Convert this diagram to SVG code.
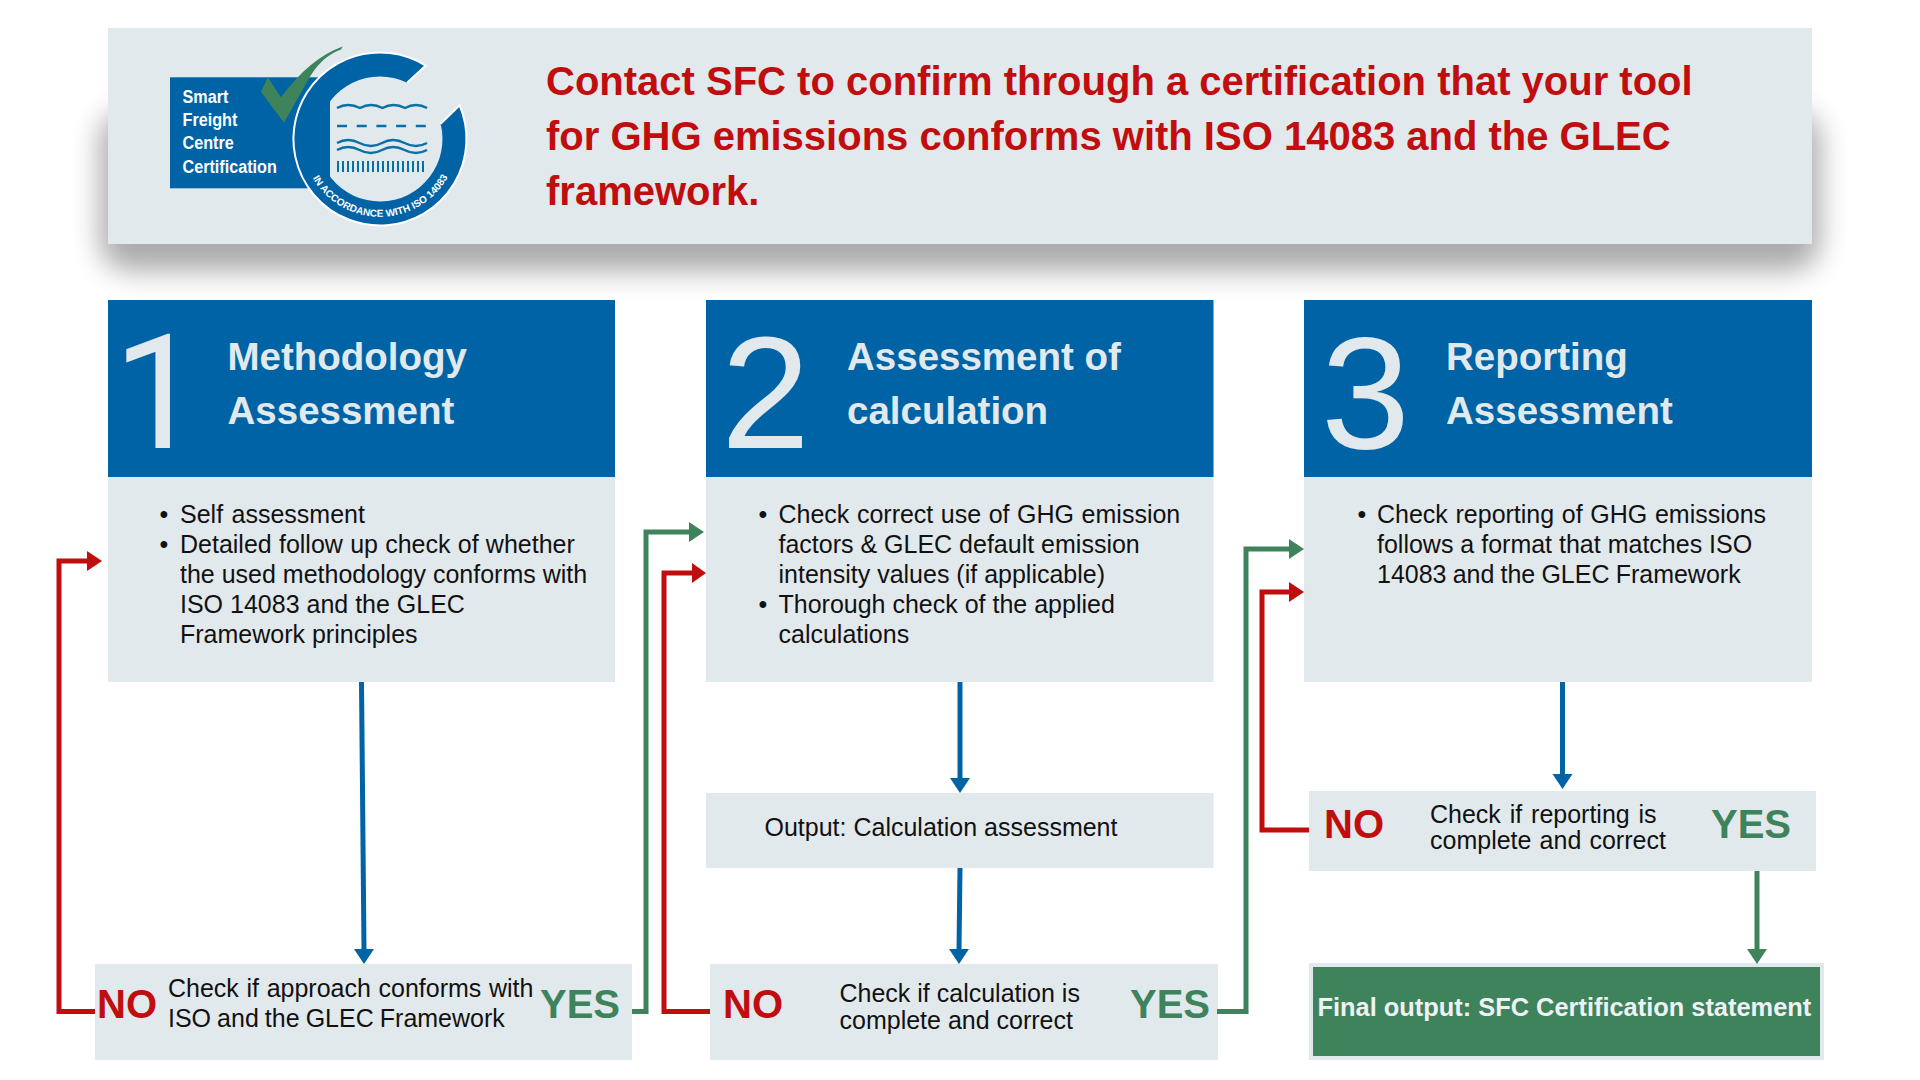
<svg xmlns="http://www.w3.org/2000/svg" width="1920" height="1080" viewBox="0 0 1920 1080">
<style>
text{font-family:"Liberation Sans",Arial,sans-serif}
.num{font-size:160px;fill:#e2e9ed}
.ttl{font-size:38.5px;font-weight:700;fill:#e2e9ed}
.red{font-size:40px;font-weight:700;fill:#c00d0d}
.body{font-size:25px;fill:#111}
.no{font-size:40px;font-weight:700;fill:#c00d0d}
.yes{font-size:40px;font-weight:700;fill:#3f835d}
.c{fill:none;stroke-width:5}
.cb{stroke:#0063a6}.cr{stroke:#c00d0d}.cg{stroke:#3f835d}
.wave{fill:none;stroke:#0a6fa5;stroke-width:2.4}
.lg{font-size:18.6px;font-weight:700;fill:#fff}
</style>
<defs>
<filter id="sh" x="-5%" y="-40%" width="110%" height="200%"><feGaussianBlur stdDeviation="14"/></filter>
</defs>
<rect x="0" y="0" width="1920" height="1080" fill="#fff"/>
<g id="banner">
<rect x="100" y="110" width="1720" height="161" rx="30" fill="#000" opacity=".33" filter="url(#sh)"/>
<rect x="108" y="28" width="1704" height="216" fill="#e2e9ed"/>
<g id="logo">
<rect x="170" y="77.3" width="160" height="111" fill="#0063a6"/>
<g transform="translate(182.5,0) scale(.87,1)">
<text class="lg" x="0" y="102.7">Smart</text>
<text class="lg" x="0" y="126">Freight</text>
<text class="lg" x="0" y="149">Centre</text>
<text class="lg" x="0" y="173">Certification</text>
</g>
<path d="M261 91.7L267.7 77.3L281 97.3Q310 58 342.7 46.5L341 49.5Q320 57 307 82L284 122.7Z" fill="#3f835d"/>
<path d="M425.800 65.600A86.500 86.500 0 1 0 459.600 105.200L440.600 123.800A62.500 62.500 0 1 1 407.100 82.700Z" fill="#0063a6"/>
<path d="M407.100 82.700L425.800 65.600A86.500 86.500 0 1 0 459.600 105.200L440.600 123.800" fill="none" stroke="#fff" stroke-width="2"/>
<path id="arc" d="M312.700 178A77.700 77.700 0 0 0 447.300 178" fill="none"/>
<text font-size="10" font-weight="700" fill="#fff"><textPath href="#arc">IN ACCORDANCE WITH ISO 14083</textPath></text>
<path class="wave" d="M337 108q11-6 23 0q11-6 22.500 0q11-6 22.500 0q11-6 22 0"/>
<path class="wave" d="M337 126H427" stroke-dasharray="10 9.700"/>
<path class="wave" d="M337 143q11-6 22.500 0t22.500 0t22.500 0t22.500 0"/>
<path class="wave" d="M337 150q11-6 22.500 0t22.500 0t22.500 0t22.500 0"/>
<path d="M337 166.500H427" fill="none" stroke="#0a6fa5" stroke-width="11" stroke-dasharray="2 3"/>
</g>
<text class="red" x="546" y="95">Contact SFC to confirm through a certification that your tool</text>
<text class="red" x="546" y="150">for GHG emissions conforms with ISO 14083 and the GLEC</text>
<text class="red" x="546" y="205">framework.</text>
</g>
<g id="panel1">
<rect x="108" y="300" width="507" height="177" fill="#0063a6"/>
<rect x="108" y="477" width="507" height="205" fill="#e2e9ed"/>
<text class="num" x="113" y="448" style="font-family:Roboto,sans-serif">1</text>
<text class="ttl" x="227.500" y="370">Methodology</text>
<text class="ttl" x="227.500" y="424">Assessment</text>
<text class="body" x="159.500" y="523">•</text><text class="body" x="180" y="523" word-spacing="1.500">Self assessment</text>
<text class="body" x="159.500" y="553">•</text><text class="body" x="180" y="553" word-spacing=".3">Detailed follow up check of whether</text>
<text class="body" x="180" y="583">the used methodology conforms with</text>
<text class="body" x="180" y="613">ISO 14083 and the GLEC</text>
<text class="body" x="180" y="643">Framework principles</text>
</g>
<g id="panel2">
<rect x="706" y="300" width="507.500" height="177" fill="#0063a6"/>
<rect x="706" y="477" width="507.500" height="205" fill="#e2e9ed"/>
<text class="num" x="721" y="448">2</text>
<text class="ttl" x="847" y="370">Assessment of</text>
<text class="ttl" x="847" y="424">calculation</text>
<text class="body" x="758.500" y="523">•</text><text class="body" x="778.500" y="523" word-spacing=".6">Check correct use of GHG emission</text>
<text class="body" x="778.500" y="553">factors &amp; GLEC default emission</text>
<text class="body" x="778.500" y="583">intensity values (if applicable)</text>
<text class="body" x="758.500" y="613">•</text><text class="body" x="778.500" y="613">Thorough check of the applied</text>
<text class="body" x="778.500" y="643">calculations</text>
</g>
<g id="panel3">
<rect x="1304" y="300" width="508" height="177" fill="#0063a6"/>
<rect x="1304" y="477" width="508" height="205" fill="#e2e9ed"/>
<text class="num" x="1321" y="448">3</text>
<text class="ttl" x="1446" y="370">Reporting</text>
<text class="ttl" x="1446" y="424">Assessment</text>
<text class="body" x="1357.500" y="523">•</text><text class="body" x="1377" y="523" word-spacing=".7">Check reporting of GHG emissions</text>
<text class="body" x="1377" y="553">follows a format that matches ISO</text>
<text class="body" x="1377" y="583" word-spacing="-.8">14083 and the GLEC Framework</text>
</g>
<g id="check1">
<rect x="95" y="964" width="537" height="96" fill="#e2e9ed"/>
<text class="no" x="97" y="1018">NO</text>
<text class="body" x="168" y="997" word-spacing=".7">Check if approach conforms with</text>
<text class="body" x="168" y="1027" word-spacing="-.9">ISO and the GLEC Framework</text>
<text class="yes" x="540" y="1018">YES</text>
</g>
<g id="output2">
<rect x="706" y="793" width="507.500" height="75" fill="#e2e9ed"/>
<text class="body" x="764.500" y="836">Output: Calculation assessment</text>
</g>
<g id="check2">
<rect x="710" y="964" width="508" height="96" fill="#e2e9ed"/>
<text class="no" x="723" y="1018">NO</text>
<text class="body" x="839.500" y="1002">Check if calculation is</text>
<text class="body" x="839.500" y="1029">complete and correct</text>
<text class="yes" x="1130" y="1018">YES</text>
</g>
<g id="check3">
<rect x="1309" y="791" width="507" height="80" fill="#e2e9ed"/>
<text class="no" x="1324" y="838">NO</text>
<text class="body" x="1430" y="823" word-spacing="1.900">Check if reporting is</text>
<text class="body" x="1430" y="849" word-spacing="1.200">complete and correct</text>
<text class="yes" x="1711" y="838">YES</text>
</g>
<g id="final">
<rect x="1309" y="963" width="515" height="97" fill="#e2e9ed"/>
<rect x="1313" y="967" width="507" height="89" fill="#3f835d"/>
<text x="1317.500" y="1016" font-size="25.4" font-weight="700" fill="#eef2f4">Final output: SFC Certification statement</text>
</g>
<g id="connectors">
<path class="c cb" d="M361.500 682L364 950"/>
<path class="c cb" d="M960 682V780"/>
<path class="c cb" d="M960 868L959 950"/>
<path class="c cb" d="M1562.500 682V776"/>
<path class="c cg" d="M1757 871V950"/>
<path class="c cr" d="M95 1011.500H59V561H88"/>
<path class="c cg" d="M632 1011.500H646V532H690"/>
<path class="c cr" d="M710 1011.500H664V573H693"/>
<path class="c cg" d="M1217 1011.500H1246V549H1290"/>
<path class="c cr" d="M1309 830H1262V592H1290"/>
<path fill="#0063a6" d="M354 949H374L364 964Z"/>
<path fill="#0063a6" d="M950 778H970L960 793Z"/>
<path fill="#0063a6" d="M949 949H969L959 964Z"/>
<path fill="#0063a6" d="M1552.500 774H1572.500L1562.500 789Z"/>
<path fill="#3f835d" d="M1747 949H1767L1757 964Z"/>
<path fill="#c00d0d" d="M87 551V571L102 561Z"/>
<path fill="#3f835d" d="M689 522V542L704 532Z"/>
<path fill="#c00d0d" d="M692 563V583L706 573Z"/>
<path fill="#3f835d" d="M1289 539V559L1304 549Z"/>
<path fill="#c00d0d" d="M1289 582V602L1304 592Z"/>
</g>
</svg>
